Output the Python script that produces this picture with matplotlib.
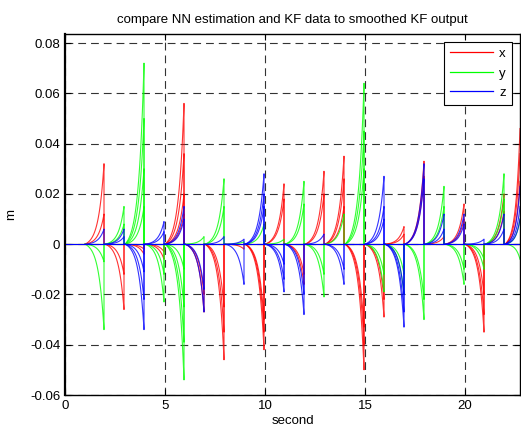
import numpy as np
import matplotlib
matplotlib.use("Agg")
import matplotlib.pyplot as plt
from matplotlib.lines import Line2D

plt.rcParams['font.family'] = ['Liberation Sans', 'DejaVu Sans']

# segment start times (seconds); each estimation run restarts from 0
seg_start = list(range(1, 23))
seg_len = 0.95
x_max = 22.75

# final values reached in each segment, per axis (several traces per segment)
x_ends = [
    [0.032, 0.012], [-0.026, -0.012], [-0.004, -0.002], [-0.006, -0.003],
    [0.056, 0.036, 0.020, 0.012], [-0.027, -0.020], [-0.046, -0.035, -0.025],
    [-0.002], [-0.042, -0.035, -0.030], [0.024, 0.018], [-0.016, -0.012],
    [0.029, 0.020], [0.035, 0.026, 0.015], [-0.050, -0.040, -0.033],
    [-0.029, -0.022], [0.007, 0.004], [0.033, 0.027], [0.003],
    [0.016, 0.010], [-0.035, -0.028, -0.020], [0.020, 0.013],
    [0.046, 0.036, 0.025],
]
y_ends = [
    [-0.034, -0.007], [0.015, 0.008], [0.072, 0.050, 0.030, 0.015],
    [-0.023, -0.012], [-0.054, -0.039, -0.025, -0.010], [0.003],
    [0.026, 0.015], [0.001], [0.008], [0.002], [0.025, 0.016],
    [-0.021, -0.012], [0.012], [0.064, 0.045, 0.030], [-0.019, -0.012],
    [-0.020, -0.012], [-0.030, -0.022], [0.023, 0.015], [-0.016, -0.010],
    [-0.010, -0.006], [0.028, 0.018], [-0.006, 0.010],
]
z_ends = [
    [0.006], [0.006, 0.003], [-0.034, -0.022, -0.011], [0.009, 0.005],
    [0.015, 0.010], [-0.027, -0.018], [0.003], [-0.016, 0.002],
    [0.028, 0.020, 0.015], [-0.019, -0.014, -0.008], [-0.028, -0.020],
    [0.004], [-0.016, -0.010], [0.000], [0.027, 0.015, 0.010],
    [-0.033, -0.027, -0.020], [0.032, 0.026], [0.012, 0.006],
    [0.012, 0.008], [0.002], [0.012, 0.006], [0.023, 0.015, 0.010],
]

series = [("x", "#ff0000", x_ends), ("y", "#00ff00", y_ends), ("z", "#0000ff", z_ends)]

fig = plt.figure(figsize=(5.21, 4.30), dpi=100)
ax = fig.add_axes([65/521, 1-395/430, 455/521, 361/430])

ax.set_xlim(0, x_max)
ax.set_ylim(-0.06, 0.0836)

growth = 3.5
for name, col, ends in series:
    ax.plot([0, x_max], [0, 0], color=col, lw=0.8, zorder=2)
    for k, vals in zip(seg_start, ends):
        t1 = min(k + seg_len, x_max)
        span = t1 - k
        s = np.linspace(0, 1, 60)
        shape = (np.exp(growth * s) - 1) / (np.exp(growth) - 1)
        for v in vals:
            t = k + s * span
            yv = v * shape
            if t1 < x_max:
                t = np.append(t, [t1, t1])
                yv = np.append(yv, [v, 0])
            ax.plot(t, yv, color=col, lw=0.8, alpha=0.8, zorder=2)

ax.set_xticks([0, 5, 10, 15, 20])
yt = [-0.06, -0.04, -0.02, 0, 0.02, 0.04, 0.06, 0.08]
ax.set_yticks(yt)
ax.set_yticklabels(["-0.06", "-0.04", "-0.02", "0", "0.02", "0.04", "0.06", "0.08"])
ax.tick_params(direction='in', top=True, right=True, length=4, labelsize=9.5, width=0.8)
ax.grid(True, color='#333333', linestyle=(0, (7, 4.5)), linewidth=0.8)
ax.set_axisbelow(True)
for sp in ax.spines.values():
    sp.set_linewidth(1.0)
    sp.set_zorder(5)
ax.spines['left'].set_linewidth(1.6)

ax.set_title("compare NN estimation and KF data to smoothed KF output", fontsize=9.5, pad=8)
ax.set_xlabel("second", fontsize=9.5, labelpad=2)
ax.set_ylabel("m", fontsize=9.5, labelpad=9)

handles = [Line2D([0], [0], color=c, lw=0.9) for _, c, _ in series]
leg = ax.legend(handles, [n for n, _, _ in series], loc='upper right',
                bbox_to_anchor=(0.982, 0.978), borderaxespad=0, fontsize=9.5,
                handlelength=3.2, labelspacing=0.55, fancybox=False,
                framealpha=1, edgecolor='black', borderpad=0.45, handletextpad=0.5)
leg.get_frame().set_linewidth(0.8)
leg.set_zorder(10)

fig.savefig("out.png", dpi=100)
